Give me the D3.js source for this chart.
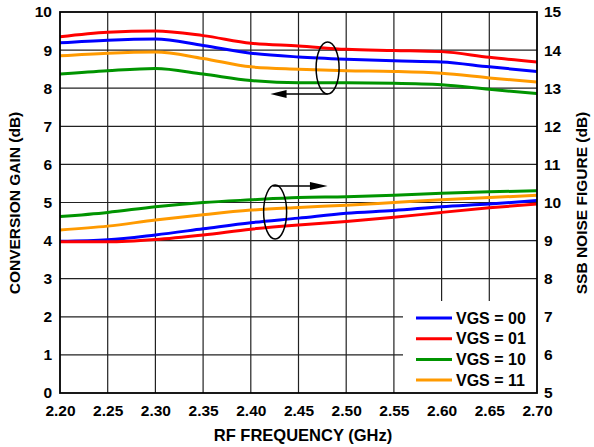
<!DOCTYPE html>
<html>
<head>
<meta charset="utf-8">
<script src="https://cdn.jsdelivr.net/npm/d3@7"></script>
<style>
  html, body { margin: 0; padding: 0; background: #fff; }
  svg { display: block; }
  text { font-family: "Liberation Sans", Arial, Helvetica, sans-serif; font-weight: bold; fill: #000; }
</style>
</head>
<body>
<svg id="chart" width="594" height="447"></svg>
<script>
// ---- data ----
const freq = [2.20, 2.25, 2.30, 2.35, 2.40, 2.45, 2.50, 2.55, 2.60, 2.65, 2.70];
const xTicks = [2.20, 2.25, 2.30, 2.35, 2.40, 2.45, 2.50, 2.55, 2.60, 2.65, 2.70];
const gainTicks = [0, 1, 2, 3, 4, 5, 6, 7, 8, 9, 10];
const nfTicks = [5, 6, 7, 8, 9, 10, 11, 12, 13, 14, 15];
const seriesNames = ["VGS = 00", "VGS = 01", "VGS = 10", "VGS = 11"];
const seriesColors = ["#0000ff", "#ff0000", "#009400", "#ff9a00"];
// conversion gain (dB), left axis
const gain00 = [9.19, 9.26, 9.29, 9.12, 8.92, 8.82, 8.76, 8.72, 8.69, 8.56, 8.44];
const gain01 = [9.35, 9.47, 9.50, 9.38, 9.18, 9.11, 9.02, 8.99, 8.96, 8.81, 8.69];
const gain10 = [8.37, 8.46, 8.52, 8.37, 8.20, 8.14, 8.14, 8.13, 8.09, 7.97, 7.86];
const gain11 = [8.85, 8.92, 8.95, 8.78, 8.56, 8.50, 8.46, 8.44, 8.39, 8.27, 8.16];
// SSB noise figure (dB), right axis
const nf00 = [8.98, 9.02, 9.15, 9.31, 9.47, 9.59, 9.72, 9.79, 9.89, 9.96, 10.05];
const nf01 = [8.97, 8.97, 9.03, 9.15, 9.30, 9.41, 9.50, 9.61, 9.74, 9.86, 9.96];
const nf10 = [9.63, 9.74, 9.89, 10.00, 10.07, 10.13, 10.15, 10.19, 10.24, 10.28, 10.31];
const nf11 = [9.28, 9.38, 9.54, 9.68, 9.80, 9.87, 9.93, 10.00, 10.07, 10.13, 10.19];

const gainSeries = [gain00, gain01, gain10, gain11];
const nfSeries = [nf00, nf01, nf10, nf11];

// ---- layout ----
const svg = d3.select("#chart");
const L = 60, R = 537, T = 12, B = 393;
const x = d3.scaleLinear().domain([2.20, 2.70]).range([L, R]);
const yL = d3.scaleLinear().domain([0, 10]).range([B, T]);
const yR = d3.scaleLinear().domain([5, 15]).range([B, T]);
const fs = 15.5;

// grid
const grid = svg.append("g").attr("stroke", "#222").attr("stroke-width", 1.2);
grid.selectAll("line.v").data(xTicks.slice(1, -1)).enter().append("line")
  .attr("x1", d => x(d)).attr("x2", d => x(d)).attr("y1", T).attr("y2", B);
grid.selectAll("line.h").data(gainTicks.slice(1, -1)).enter().append("line")
  .attr("y1", d => yL(d)).attr("y2", d => yL(d)).attr("x1", L).attr("x2", R);

// curves
const lineG = d3.line().x((d, i) => x(freq[i])).y(d => yL(d)).curve(d3.curveMonotoneX);
const lineN = d3.line().x((d, i) => x(freq[i])).y(d => yR(d)).curve(d3.curveMonotoneX);
const curves = svg.append("g").attr("fill", "none").attr("stroke-width", 3);
[2, 3, 0, 1].forEach(k => {
  curves.append("path").attr("d", lineN(nfSeries[k])).attr("stroke", seriesColors[k]);
});
[2, 3, 0, 1].forEach(k => {
  curves.append("path").attr("d", lineG(gainSeries[k])).attr("stroke", seriesColors[k]);
});

// axes (labels only)
const axL = svg.append("g").attr("transform", `translate(${L},0)`)
  .call(d3.axisLeft(yL).tickValues(gainTicks).tickSize(0).tickPadding(8).tickFormat(d3.format("d")));
const axR = svg.append("g").attr("transform", `translate(${R},0)`)
  .call(d3.axisRight(yR).tickValues(nfTicks).tickSize(0).tickPadding(7).tickFormat(d3.format("d")));
const axB = svg.append("g").attr("transform", `translate(0,${B})`)
  .call(d3.axisBottom(x).tickValues(xTicks).tickSize(0).tickPadding(12).tickFormat(d3.format(".2f")));
[axL, axR, axB].forEach(a => {
  a.select(".domain").remove();
  a.selectAll("text").attr("font-size", fs).attr("font-family", null).style("font-family", "'Liberation Sans', Arial, sans-serif").style("font-weight", "bold").attr("fill", "#000");
});

// legend
const lg = svg.append("g");
lg.append("rect").attr("x", 403).attr("y", 301).attr("width", R - 403).attr("height", B - 301).attr("fill", "#fff");
seriesNames.forEach((name, i) => {
  const yy = 318 + i * 20.7;
  lg.append("line").attr("x1", 416).attr("x2", 452).attr("y1", yy).attr("y2", yy)
    .attr("stroke", seriesColors[i]).attr("stroke-width", 3);
  lg.append("text").attr("x", 456).attr("y", yy + 5.5).attr("font-size", 16).text(name);
});

// plot frame
svg.append("rect").attr("x", L).attr("y", T).attr("width", R - L).attr("height", B - T)
  .attr("fill", "none").attr("stroke", "#000").attr("stroke-width", 1.8);

// annotations: ellipses + arrows
const ann = svg.append("g").attr("stroke", "#000").attr("stroke-width", 1.5).attr("fill", "none");
const e1x = x(2.4805), e1y = yL(8.53);
ann.append("ellipse").attr("cx", e1x).attr("cy", e1y).attr("rx", 11.5).attr("ry", 26);
ann.append("line").attr("x1", e1x).attr("y1", e1y + 26).attr("x2", x(2.435)).attr("y2", e1y + 26);
svg.append("path").attr("d", `M${x(2.4205)},${e1y + 26} L${x(2.4375)},${e1y + 26 - 4} L${x(2.4375)},${e1y + 26 + 4} Z`).attr("fill", "#000");
const e2x = x(2.4255), e2y = yL(4.75);
ann.append("ellipse").attr("cx", e2x).attr("cy", e2y).attr("rx", 11.5).attr("ry", 27);
ann.append("line").attr("x1", e2x - 2).attr("y1", e2y - 26).attr("x2", x(2.464)).attr("y2", e2y - 26);
svg.append("path").attr("d", `M${x(2.4805)},${e2y - 26} L${x(2.462)},${e2y - 26 - 4} L${x(2.462)},${e2y - 26 + 4} Z`).attr("fill", "#000");

// axis titles
svg.append("text").attr("transform", `translate(20,203) rotate(-90)`)
  .attr("text-anchor", "middle").attr("font-size", 15.5).text("CONVERSION GAIN (dB)");
svg.append("text").attr("transform", `translate(587,203) rotate(-90)`)
  .attr("text-anchor", "middle").attr("font-size", 15.5).text("SSB NOISE FIGURE (dB)");
svg.append("text").attr("x", 303).attr("y", 441).attr("text-anchor", "middle")
  .attr("font-size", 16.5).text("RF FREQUENCY (GHz)");
</script>
</body>
</html>
